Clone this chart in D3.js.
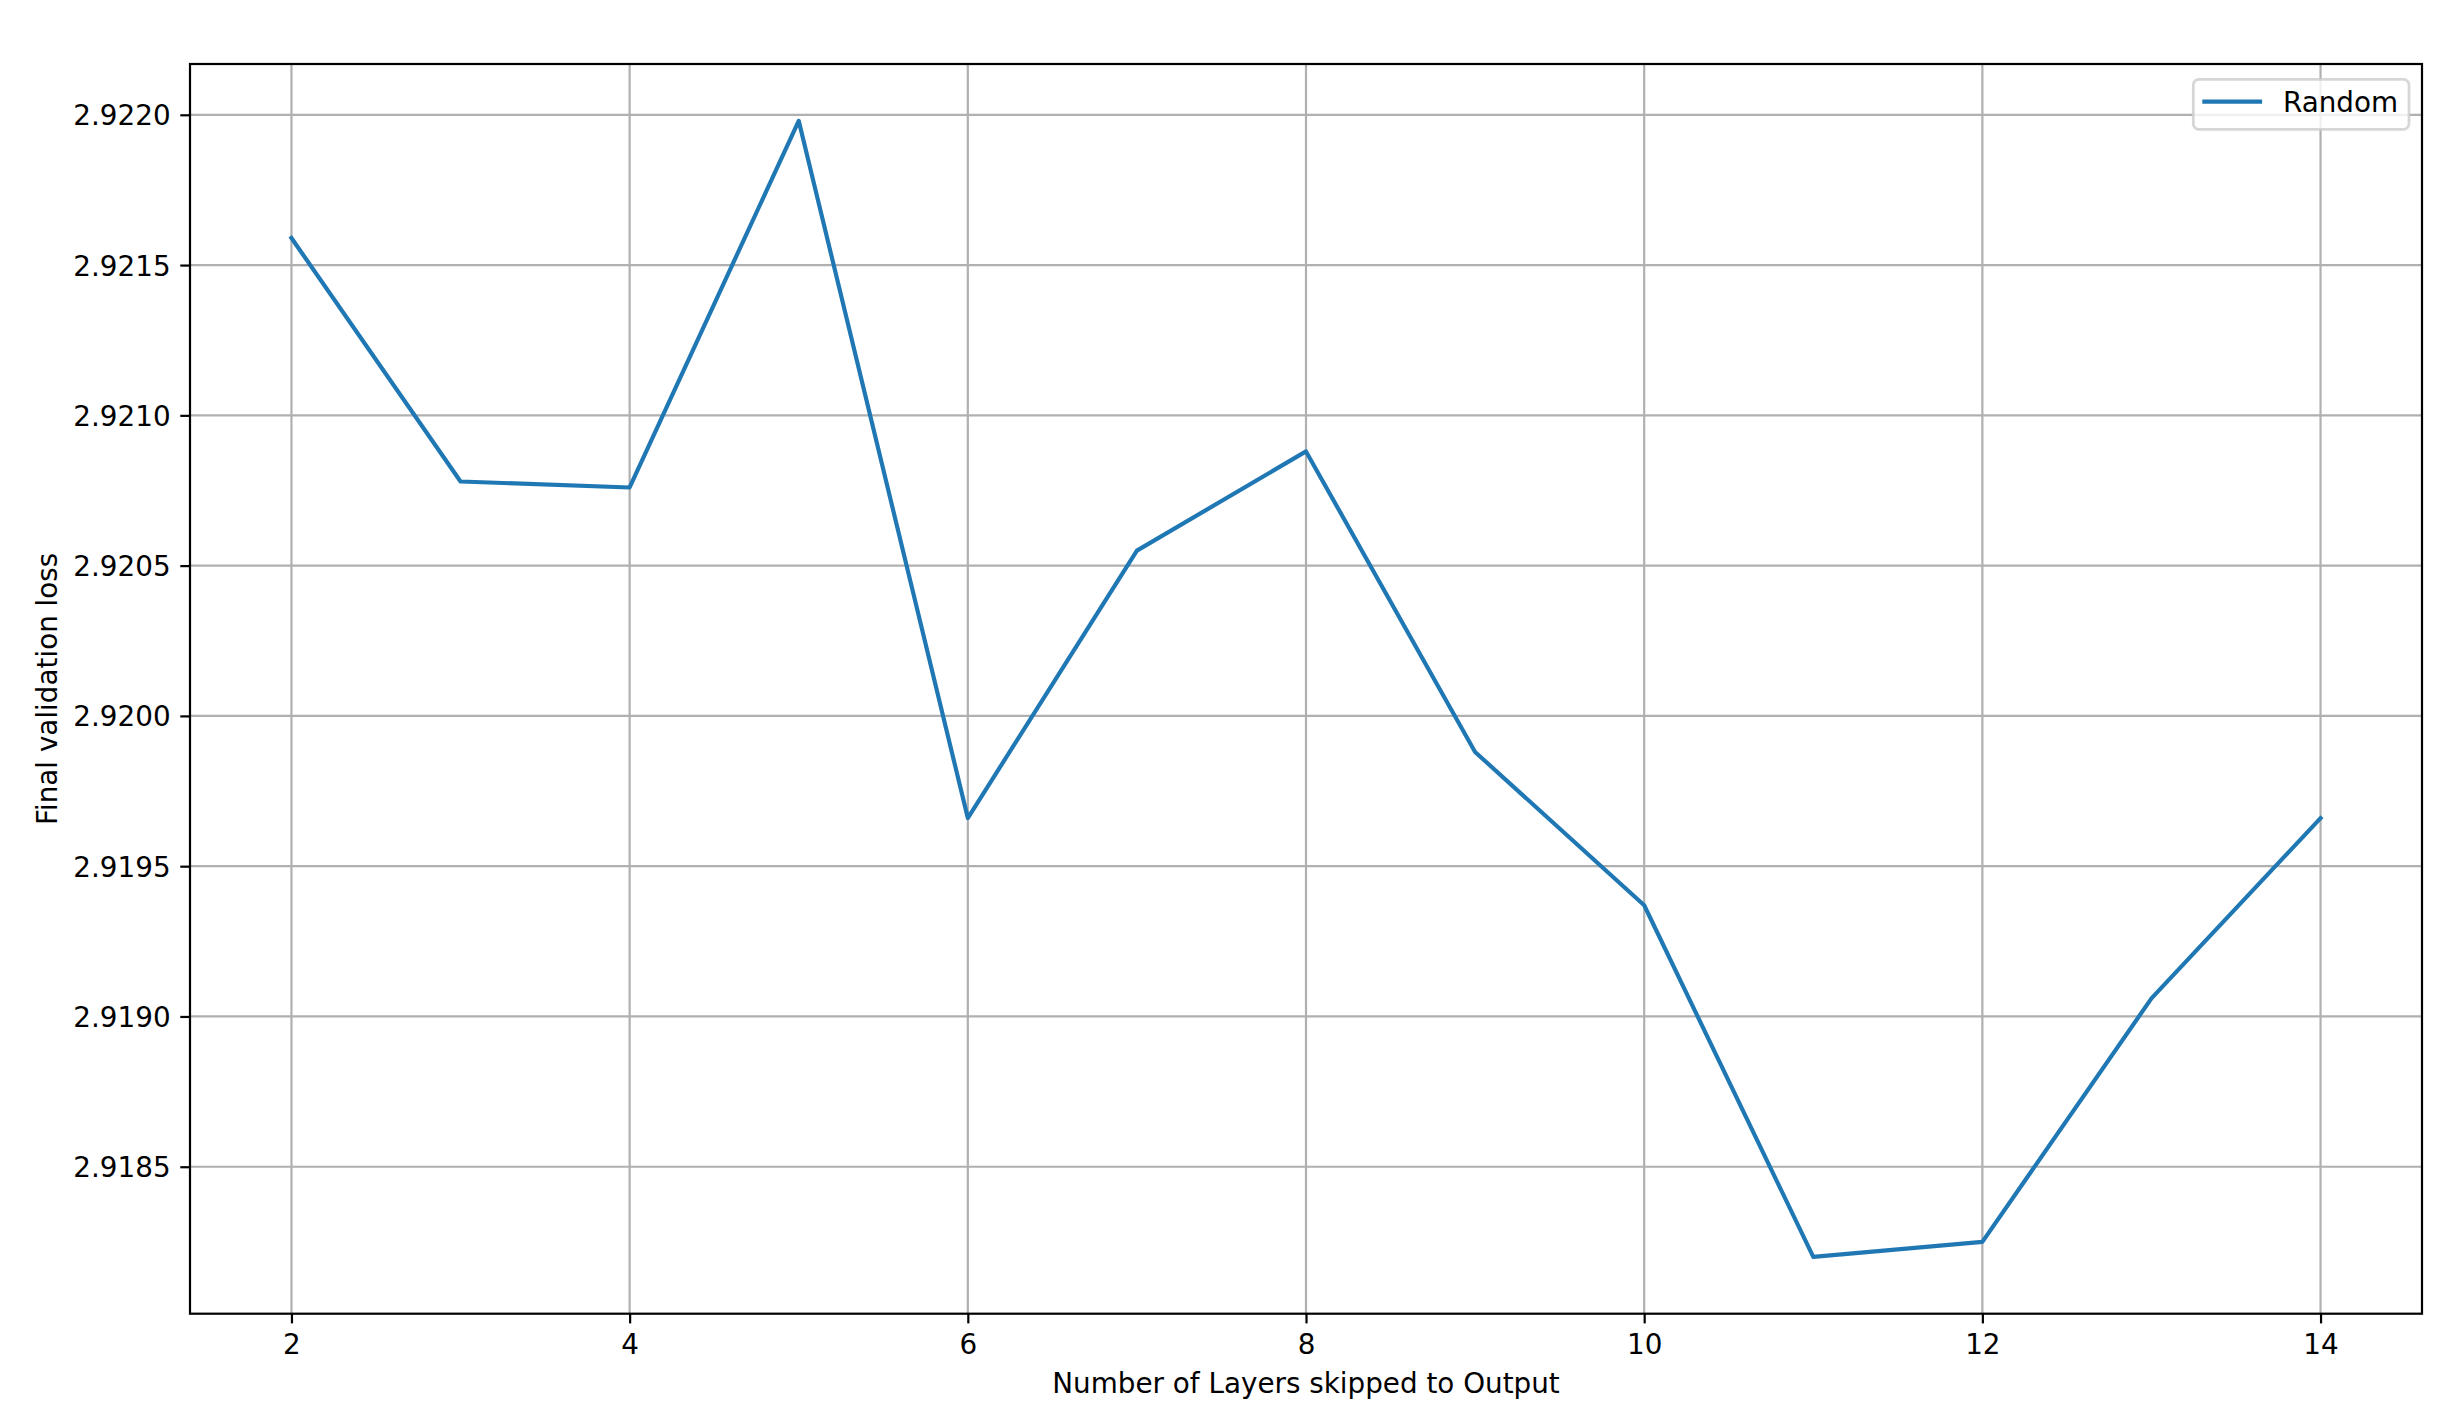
<!DOCTYPE html>
<html>
<head>
<meta charset="utf-8">
<script src="https://cdn.jsdelivr.net/npm/d3@7"></script>
<style>
  html, body { margin: 0; padding: 0; background: #ffffff; }
  svg { display: block; }
  text { font-family: "DejaVu Sans", sans-serif; fill: #000; }
</style>
</head>
<body>
<script>
// ---- data ----
const layers = [2, 3, 4, 5, 6, 7, 8, 9, 10, 11, 12, 13, 14];
const lossRandom = [2.92159, 2.92078, 2.92076, 2.92198, 2.91966, 2.92055, 2.92088,
                    2.91988, 2.91937, 2.91820, 2.91825, 2.91906, 2.91966];
const xTicks = [2, 4, 6, 8, 10, 12, 14];
const yTicks = [2.9185, 2.9190, 2.9195, 2.9200, 2.9205, 2.9210, 2.9215, 2.9220];
const seriesName = "Random";
const xLabel = "Number of Layers skipped to Output";
const yLabel = "Final validation loss";

// ---- layout ----
const W = 2440, H = 1412;
const plotL = 190, plotR = 2422, plotT = 64, plotB = 1313.7;
const fs = 27.8;           // 10pt at 200 dpi
const lw = 2.2;            // 0.8pt
const tickLen = 9.7, tickPad = 9.7;
const color = "#1f77b4";

const svg = d3.select("body").append("svg").attr("width", W).attr("height", H);

const xExt = d3.extent(layers), yExt = d3.extent(lossRandom);
const xm = (xExt[1] - xExt[0]) * 0.05, ym = (yExt[1] - yExt[0]) * 0.05;
const x = d3.scaleLinear().domain([xExt[0] - xm, xExt[1] + xm]).range([plotL, plotR]);
const y = d3.scaleLinear().domain([yExt[0] - ym, yExt[1] + ym]).range([plotB, plotT]);

// grid
const grid = svg.append("g");
grid.selectAll("line.vx").data(xTicks).enter().append("line")
  .attr("x1", d => x(d)).attr("x2", d => x(d)).attr("y1", plotT).attr("y2", plotB)
  .attr("stroke", "#b0b0b0").attr("stroke-width", lw);
grid.selectAll("line.hy").data(yTicks).enter().append("line")
  .attr("y1", d => y(d)).attr("y2", d => y(d)).attr("x1", plotL).attr("x2", plotR)
  .attr("stroke", "#b0b0b0").attr("stroke-width", lw);

// line
const line = d3.line().x((d, i) => x(layers[i])).y(d => y(d));
svg.append("path").datum(lossRandom)
  .attr("d", line).attr("fill", "none").attr("stroke", color)
  .attr("stroke-width", 4.17).attr("stroke-linejoin", "round").attr("stroke-linecap", "square");

// axes via d3
const xAxis = d3.axisBottom(x).tickValues(xTicks).tickSize(tickLen).tickPadding(tickPad).tickFormat(d3.format("d"));
const yAxis = d3.axisLeft(y).tickValues(yTicks).tickSize(tickLen).tickPadding(tickPad).tickFormat(d3.format(".4f"));

const gx = svg.append("g").attr("transform", `translate(0,${plotB})`).call(xAxis);
const gy = svg.append("g").attr("transform", `translate(${plotL},0)`).call(yAxis);
[gx, gy].forEach(g => {
  g.select(".domain").remove();
  g.selectAll(".tick line").attr("stroke", "#000").attr("stroke-width", lw);
  g.selectAll(".tick text").attr("font-size", fs).attr("font-family", "DejaVu Sans").attr("fill", "#000");
});
gx.selectAll(".tick text").attr("dy", null).attr("y", tickLen + tickPad + 21.1);
gy.selectAll(".tick text").attr("dy", "0.36em");

// spines
svg.append("rect").attr("x", plotL).attr("y", plotT)
  .attr("width", plotR - plotL).attr("height", plotB - plotT)
  .attr("fill", "none").attr("stroke", "#000").attr("stroke-width", lw);

// axis labels
svg.append("text").attr("x", (plotL + plotR) / 2).attr("y", 1393)
  .attr("text-anchor", "middle").attr("font-size", fs).text(xLabel);
svg.append("text")
  .attr("transform", `translate(56.5,${(plotT + plotB) / 2}) rotate(-90)`)
  .attr("text-anchor", "middle").attr("font-size", fs).text(yLabel);

// legend
const lg = svg.append("g");
lg.append("rect").attr("x", 2193.3).attr("y", 79.3).attr("width", 215.7).attr("height", 50)
  .attr("rx", 5.6).attr("ry", 5.6)
  .attr("fill", "rgba(255,255,255,0.8)").attr("stroke", "rgba(204,204,204,0.8)").attr("stroke-width", 2.78);
lg.append("line").attr("x1", 2204.4).attr("x2", 2260).attr("y1", 101.7).attr("y2", 101.7)
  .attr("stroke", color).attr("stroke-width", 4.17).attr("stroke-linecap", "square");
lg.append("text").attr("x", 2283).attr("y", 111.5).attr("font-size", fs).text(seriesName);
</script>
</body>
</html>
